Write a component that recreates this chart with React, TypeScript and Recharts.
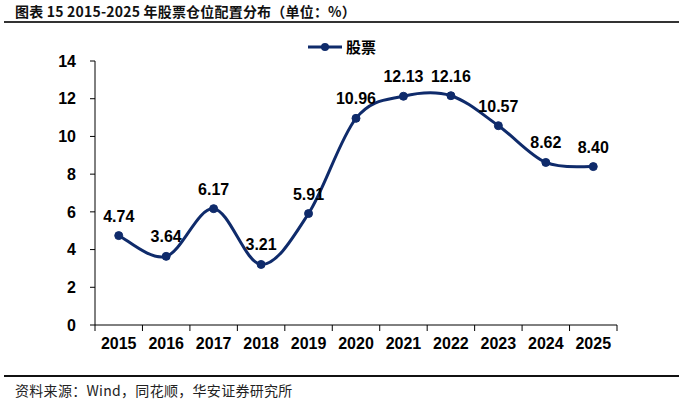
import React from "react";
import { LineChart, Line, XAxis, YAxis, LabelList } from "recharts";

const years = ["2015", "2016", "2017", "2018", "2019", "2020", "2021", "2022", "2023", "2024", "2025"];
const stockWeights = [4.74, 3.64, 6.17, 3.21, 5.91, 10.96, 12.13, 12.16, 10.57, 8.62, 8.4];
const yTicks = [0, 2, 4, 6, 8, 10, 12, 14];
const seriesName = "股票";
const titleText = "图表 15 2015-2025 年股票仓位配置分布（单位：%）";
const sourceText = "资料来源：Wind，同花顺，华安证券研究所";

const data = years.map((y, i) => ({ i, year: y, value: stockWeights[i] }));
const xTicks: number[] = [];
for (let k = 0; k <= years.length * 2; k++) xTicks.push(-0.5 + k * 0.5);

const NAVY = "#0F2B6B";
const NUM_FONT = "'Liberation Sans', Arial, sans-serif";
const CJK_FONT = "'Noto Sans CJK SC', sans-serif";

// Catmull-Rom (Excel-like smoothed line) curve factory
function smoothCurve(context: any) {
  let pts: number[][] = [];
  return {
    areaStart() {},
    areaEnd() {},
    lineStart() {
      pts = [];
    },
    lineEnd() {
      const n = pts.length;
      if (!n) return;
      context.moveTo(pts[0][0], pts[0][1]);
      for (let k = 0; k < n - 1; k++) {
        const p0 = pts[k - 1] || pts[k];
        const p1 = pts[k];
        const p2 = pts[k + 1];
        const p3 = pts[k + 2] || p2;
        context.bezierCurveTo(
          p1[0] + (p2[0] - p0[0]) / 6,
          p1[1] + (p2[1] - p0[1]) / 6,
          p2[0] - (p3[0] - p1[0]) / 6,
          p2[1] - (p3[1] - p1[1]) / 6,
          p2[0],
          p2[1]
        );
      }
    },
    point(x: number, y: number) {
      pts.push([+x, +y]);
    },
  };
}

const XTick = (props: any) => {
  const { x, y, payload } = props;
  const v = payload.value;
  if (Number.isInteger(v)) {
    return (
      <text x={x} y={y + 24} textAnchor="middle" fontFamily={NUM_FONT} fontWeight="bold" fontSize={16} fill="#000">
        {years[v]}
      </text>
    );
  }
  return <line x1={x} x2={x} y1={y} y2={y + 6} stroke="#000" strokeWidth={1} />;
};

export default function App() {
  return (
    <div style={{ position: "absolute", left: 0, top: 0, width: 700, height: 403, background: "#fff", overflow: "hidden" }}>
      <div
        style={{
          position: "absolute",
          left: 15,
          top: 1,
          fontFamily: CJK_FONT,
          fontWeight: "bold",
          fontSize: 14,
          lineHeight: "20px",
          color: "#111",
          whiteSpace: "nowrap",
          letterSpacing: 0.2,
        }}
      >
        {titleText}
      </div>
      <div style={{ position: "absolute", left: 4, top: 21, width: 675, height: 2, background: "#333" }} />
      <div style={{ position: "absolute", left: 4, top: 375, width: 675, height: 2, background: "#111" }} />
      <div
        style={{
          position: "absolute",
          left: 15,
          top: 380,
          fontFamily: CJK_FONT,
          fontSize: 14,
          lineHeight: "20px",
          color: "#222",
          whiteSpace: "nowrap",
          letterSpacing: 0.3,
        }}
      >
        {sourceText}
      </div>
      <div style={{ position: "absolute", left: 308, top: 37, display: "flex", alignItems: "center" }}>
        <svg width={36} height={12}>
          <line x1={0} x2={34} y1={6} y2={6} stroke={NAVY} strokeWidth={3} />
          <circle cx={17} cy={6} r={4} fill={NAVY} />
        </svg>
        <span style={{ fontFamily: CJK_FONT, fontWeight: "bold", fontSize: 15, color: "#000", marginLeft: 2, lineHeight: "20px" }}>
          {seriesName}
        </span>
      </div>
      <div style={{ position: "absolute", left: 0, top: 0 }}>
        <LineChart width={700} height={403} data={data} margin={{ top: 61, right: 83, bottom: 0, left: 35 }}>
          <XAxis
            dataKey="i"
            type="number"
            domain={[-0.5, 10.5]}
            ticks={xTicks}
            interval={0}
            tickSize={0}
            tickMargin={0}
            tickLine={false}
            axisLine={{ stroke: "#000", strokeWidth: 1 }}
            tick={<XTick />}
            height={78}
          />
          <YAxis
            type="number"
            domain={[0, 14]}
            ticks={yTicks}
            interval={0}
            width={60}
            tickSize={5}
            tickMargin={14}
            axisLine={{ stroke: "#000", strokeWidth: 1 }}
            tickLine={{ stroke: "#000", strokeWidth: 1 }}
            tick={{ fontFamily: NUM_FONT, fontWeight: "bold", fontSize: 16, fill: "#000" }}
          />
          <Line
            type={smoothCurve as any}
            dataKey="value"
            name={seriesName}
            stroke={NAVY}
            strokeWidth={3}
            dot={{ r: 4, fill: NAVY, stroke: NAVY, strokeWidth: 1 }}
            activeDot={false}
            isAnimationActive={false}
          >
            <LabelList
              dataKey="value"
              position="top"
              offset={14}
              formatter={(v: any) => Number(v).toFixed(2)}
              style={{ fontFamily: NUM_FONT, fontWeight: "bold", fontSize: 16, fill: "#000" }}
            />
          </Line>
        </LineChart>
      </div>
    </div>
  );
}
